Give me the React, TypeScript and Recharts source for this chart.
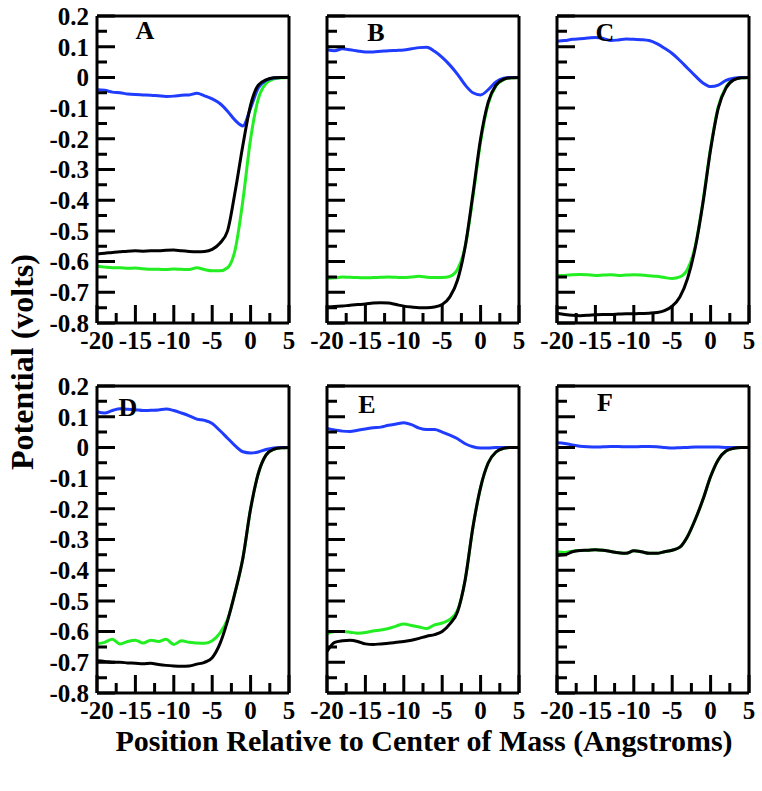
import React from 'react';
import { LineChart, Line, XAxis, YAxis } from 'recharts';

// shared x grid (Angstroms)
const X = [-20, -19, -18, -17, -16, -15, -14, -13, -12, -11, -10, -9, -8, -7, -6, -5, -4, -3, -2, -1, 0, 1, 2, 3, 4, 5];

const X_MAJOR = [-20, -15, -10, -5, 0, 5];
const X_MINOR = [-17.5, -12.5, -7.5, -2.5, 2.5];
const Y_MAJOR = [-0.8, -0.7, -0.6, -0.5, -0.4, -0.3, -0.2, -0.1, 0, 0.1, 0.2];
const Y_MINOR = [-0.75, -0.65, -0.55, -0.45, -0.35, -0.25, -0.15, -0.05, 0.05, 0.15];

// panel A
const blueA = [-0.040, -0.042, -0.048, -0.050, -0.054, -0.056, -0.057, -0.058, -0.060, -0.062, -0.061, -0.058, -0.057, -0.052, -0.060, -0.070, -0.085, -0.110, -0.140, -0.158, -0.100, -0.035, -0.010, -0.002, 0, 0];
const greenA = [-0.615, -0.618, -0.620, -0.620, -0.622, -0.621, -0.623, -0.625, -0.625, -0.626, -0.624, -0.625, -0.626, -0.620, -0.626, -0.630, -0.630, -0.620, -0.560, -0.400, -0.200, -0.070, -0.020, -0.005, -0.001, 0];
const blackA = [-0.575, -0.573, -0.570, -0.568, -0.566, -0.565, -0.566, -0.565, -0.565, -0.563, -0.562, -0.565, -0.567, -0.568, -0.567, -0.560, -0.540, -0.500, -0.370, -0.220, -0.090, -0.025, -0.008, -0.001, 0, 0];

// panel B
const blueB = [0.090, 0.087, 0.093, 0.090, 0.086, 0.083, 0.083, 0.085, 0.087, 0.088, 0.089, 0.093, 0.097, 0.098, 0.085, 0.065, 0.040, 0.010, -0.025, -0.050, -0.057, -0.040, -0.015, -0.003, 0, 0];
const greenB = [-0.655, -0.653, -0.650, -0.651, -0.652, -0.653, -0.652, -0.651, -0.650, -0.651, -0.652, -0.650, -0.648, -0.651, -0.652, -0.652, -0.648, -0.625, -0.550, -0.390, -0.210, -0.085, -0.028, -0.007, -0.001, 0];
const blackB = [-0.748, -0.746, -0.745, -0.742, -0.740, -0.738, -0.735, -0.734, -0.735, -0.740, -0.745, -0.748, -0.750, -0.750, -0.748, -0.740, -0.715, -0.660, -0.550, -0.380, -0.200, -0.080, -0.025, -0.006, -0.001, 0];

// panel C
const blueC = [0.118, 0.120, 0.124, 0.126, 0.128, 0.130, 0.127, 0.120, 0.122, 0.125, 0.124, 0.123, 0.120, 0.110, 0.095, 0.078, 0.055, 0.030, 0.005, -0.018, -0.030, -0.025, -0.010, -0.003, 0, 0];
const greenC = [-0.645, -0.645, -0.643, -0.642, -0.643, -0.645, -0.644, -0.643, -0.645, -0.644, -0.643, -0.644, -0.646, -0.648, -0.652, -0.655, -0.650, -0.625, -0.550, -0.405, -0.230, -0.095, -0.032, -0.007, -0.001, 0];
const blackC = [-0.768, -0.772, -0.775, -0.776, -0.775, -0.773, -0.772, -0.772, -0.771, -0.770, -0.770, -0.769, -0.768, -0.766, -0.760, -0.745, -0.715, -0.655, -0.555, -0.410, -0.235, -0.100, -0.035, -0.008, -0.001, 0];

// panel D
const blueD = [0.116, 0.112, 0.120, 0.126, 0.124, 0.123, 0.120, 0.121, 0.122, 0.125, 0.120, 0.112, 0.103, 0.092, 0.088, 0.078, 0.055, 0.030, 0.005, -0.014, -0.018, -0.015, -0.007, -0.002, 0, 0];
const greenD = [-0.640, -0.635, -0.625, -0.640, -0.632, -0.628, -0.637, -0.628, -0.632, -0.625, -0.642, -0.630, -0.635, -0.637, -0.638, -0.630, -0.605, -0.560, -0.470, -0.360, -0.200, -0.085, -0.025, -0.006, -0.001, 0];
const blackD = [-0.695, -0.697, -0.700, -0.700, -0.702, -0.703, -0.705, -0.703, -0.707, -0.710, -0.712, -0.713, -0.712, -0.706, -0.700, -0.685, -0.640, -0.565, -0.470, -0.360, -0.200, -0.085, -0.025, -0.006, -0.001, 0];

// panel E
const blueE = [0.062, 0.057, 0.053, 0.052, 0.056, 0.060, 0.064, 0.066, 0.072, 0.076, 0.080, 0.074, 0.063, 0.058, 0.058, 0.050, 0.040, 0.028, 0.012, 0.002, -0.002, -0.002, 0, 0, 0, 0];
const greenE = [-0.608, -0.600, -0.600, -0.602, -0.605, -0.603, -0.598, -0.595, -0.590, -0.582, -0.575, -0.580, -0.585, -0.590, -0.578, -0.572, -0.560, -0.530, -0.430, -0.260, -0.130, -0.050, -0.015, -0.003, 0, 0];
const blackE = [-0.665, -0.635, -0.630, -0.628, -0.632, -0.640, -0.642, -0.640, -0.638, -0.635, -0.632, -0.628, -0.622, -0.615, -0.610, -0.600, -0.575, -0.535, -0.430, -0.260, -0.130, -0.050, -0.015, -0.003, 0, 0];

// panel F
const blueF = [0.015, 0.013, 0.008, 0.004, 0.002, 0.001, 0.002, 0.003, 0.003, 0.002, 0.002, 0.003, 0.003, 0.002, 0.000, -0.002, -0.001, 0.000, 0.001, 0.001, 0.001, 0.001, 0, 0, 0, 0];
const greenF = [-0.340, -0.342, -0.338, -0.336, -0.335, -0.333, -0.335, -0.339, -0.343, -0.345, -0.337, -0.340, -0.345, -0.345, -0.340, -0.335, -0.325, -0.290, -0.235, -0.170, -0.095, -0.040, -0.012, -0.003, 0, 0];
const blackF = [-0.352, -0.350, -0.340, -0.336, -0.335, -0.333, -0.335, -0.339, -0.343, -0.345, -0.337, -0.340, -0.345, -0.345, -0.340, -0.335, -0.325, -0.290, -0.235, -0.170, -0.095, -0.040, -0.012, -0.003, 0, 0];

const PANELS = [
  { label: 'A', blue: blueA, green: greenA, black: blackA, col: 0, row: 0, lx: 48, ly: 15 },
  { label: 'B', blue: blueB, green: greenB, black: blackB, col: 1, row: 0, lx: 49, ly: 17 },
  { label: 'C', blue: blueC, green: greenC, black: blackC, col: 2, row: 0, lx: 48, ly: 17 },
  { label: 'D', blue: blueD, green: greenD, black: blackD, col: 0, row: 1, lx: 31, ly: 22 },
  { label: 'E', blue: blueE, green: greenE, black: blackE, col: 1, row: 1, lx: 40, ly: 19 },
  { label: 'F', blue: blueF, green: greenF, black: blackF, col: 2, row: 1, lx: 48, ly: 17 },
];

const COLS = [97, 327, 557];
const ROWS = [16, 386];
const PW = 192;
const PH = 307;
const ML = 64, MT = 12, MR = 12, MB = 44;
const FONT = '"Liberation Serif", "Times New Roman", serif';
const BLUE = '#1f3cff';
const GREEN = '#22ee22';

const AXIS_LINE = { stroke: '#000', strokeWidth: 3 };
const TICK_FONT = { fontFamily: FONT, fontWeight: 'bold', fontSize: 25, fill: '#000' };
const blank = () => '';

// inward tick marks drawn as one SVG overlay on top of everything
function TickOverlay() {
  const segs: string[] = [];
  for (const c of COLS) {
    for (const r of ROWS) {
      const xp = (v: number) => c + ((v + 20) / 25) * PW;
      const yp = (v: number) => r + ((0.2 - v) / 1.0) * PH;
      Y_MAJOR.forEach(v => segs.push(`M${c},${yp(v)}h18`));
      Y_MINOR.forEach(v => segs.push(`M${c},${yp(v)}h10`));
      X_MAJOR.forEach(v => segs.push(`M${xp(v)},${r + PH}v-18`));
      X_MINOR.forEach(v => segs.push(`M${xp(v)},${r + PH}v-10`));
    }
  }
  return (
    <svg width={762} height={791} style={{ position: 'absolute', left: 0, top: 0, zIndex: 10, pointerEvents: 'none' }}>
      <path d={segs.join(' ')} stroke="#000" strokeWidth={3} fill="none" />
    </svg>
  );
}

function Panel({ p }: { p: typeof PANELS[number] }) {
  const data = X.map((x, i) => ({ x, blue: p.blue[i], green: p.green[i], black: p.black[i] }));
  const left = COLS[p.col];
  const top = ROWS[p.row];
  const showY = p.col === 0;
  return (
    <div style={{ position: 'absolute', left: left - ML, top: top - MT, width: PW + ML + MR, height: PH + MT + MB }}>
      <LineChart width={PW + ML + MR} height={PH + MT + MB} data={data}
        margin={{ top: MT - 1, right: MR - 1, bottom: MB - 1, left: ML - 1 }}>
        <XAxis dataKey="x" type="number" domain={[-20, 5]} ticks={X_MAJOR} interval={0} height={1}
          tickSize={0} tickMargin={8} tickLine={false} tick={TICK_FONT} axisLine={AXIS_LINE} />
        <XAxis xAxisId="top" orientation="top" type="number" domain={[-20, 5]} height={1}
          tick={false} tickLine={false} axisLine={AXIS_LINE} />
        <YAxis type="number" domain={[-0.8, 0.2]} ticks={Y_MAJOR} interval={0} width={1}
          tickSize={0} tickMargin={8} tickLine={false} tick={TICK_FONT}
          tickFormatter={showY ? undefined : blank} axisLine={AXIS_LINE} />
        <YAxis yAxisId="right" orientation="right" type="number" domain={[-0.8, 0.2]} width={1}
          tick={false} tickLine={false} axisLine={AXIS_LINE} />
        <Line type="monotone" dataKey="green" stroke={GREEN} strokeWidth={3} dot={false} isAnimationActive={false} />
        <Line type="monotone" dataKey="blue" stroke={BLUE} strokeWidth={3} dot={false} isAnimationActive={false} />
        <Line type="monotone" dataKey="black" stroke="#000" strokeWidth={3} dot={false} isAnimationActive={false} />
      </LineChart>
      <div style={{ position: 'absolute', left: ML + p.lx - 14, top: MT + p.ly - 15, width: 28, textAlign: 'center',
        fontFamily: FONT, fontWeight: 'bold', fontSize: 26, lineHeight: '30px' }}>
        {p.label}
      </div>
    </div>
  );
}

export default function App() {
  return (
    <div style={{ position: 'absolute', left: 0, top: 0, width: 762, height: 791, background: '#fff', overflow: 'hidden' }}>
      {PANELS.map(p => <Panel key={p.label} p={p} />)}
      <TickOverlay />
      <div style={{ position: 'absolute', left: 24, top: 724, width: 800, textAlign: 'center',
        fontFamily: FONT, fontWeight: 'bold', fontSize: 30, lineHeight: '34px' }}>
        Position Relative to Center of Mass (Angstroms)
      </div>
      <div style={{ position: 'absolute', left: 22 - 200, top: 362 - 18, width: 400, height: 36, textAlign: 'center',
        transform: 'rotate(-90deg)', fontFamily: FONT, fontWeight: 'bold', fontSize: 32, lineHeight: '36px' }}>
        Potential (volts)
      </div>
    </div>
  );
}
